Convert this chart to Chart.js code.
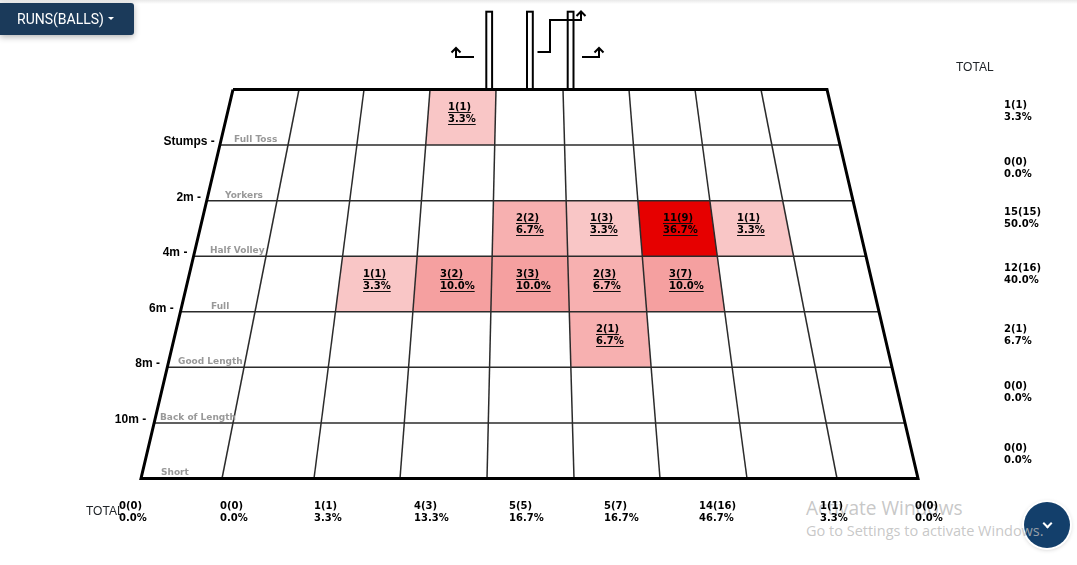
<!DOCTYPE html>
<html>
<head>
<meta charset="utf-8">
<title>Runs (balls) pitch map</title>
<script src="https://cdn.jsdelivr.net/npm/chart.js@4/dist/chart.umd.min.js"></script>
<style>
  html, body { margin: 0; padding: 0; background: #fff; overflow: hidden; }
  #wrap { position: relative; width: 1077px; height: 565px; }
  #pitchChart { position: absolute; left: 0; top: 0; z-index: 2; }
  #topShade { position: absolute; left: 0; top: 0; width: 1077px; height: 4px; background: linear-gradient(#e9e9e9, #fff); }
  #runsBtn { position: absolute; z-index: 3; left: 0; top: 3px; width: 134px; height: 32px; background: #1b3a5a; color: #fff;
    font: 14px Roboto, sans-serif; line-height: 32px; border-radius: 0 3px 3px 0; box-shadow: 0 2px 6px rgba(0,0,0,.3); }
  #runsBtn span { position: absolute; left: 17px; }
  #runsBtn i { position: absolute; left: 108px; top: 14px; border-top: 3.5px solid #fff; border-left: 3.5px solid transparent; border-right: 3.5px solid transparent; }
  #fab { position: absolute; left: 1024px; top: 502px; width: 46px; height: 46px; border-radius: 50%; background: #133f6b; box-shadow: 0 0 0 2px #fff, 0 1px 5px rgba(0,0,0,.3); }
  #fab i { position: absolute; left: 20px; top: 18px; width: 5px; height: 5px; border-right: 2px solid #fff; border-bottom: 2px solid #fff; transform: rotate(45deg); }
  #wm1, #wm2 { position: absolute; left: 806px; color: rgba(185,185,185,.8); font-family: "Open Sans", sans-serif; white-space: nowrap; pointer-events: none; }
  #wm1 { top: 495px; font-size: 19.1px; line-height: 26px; }
  #wm2 { top: 521px; font-size: 14.5px; line-height: 20px; }
</style>
</head>
<body>
<div id="wrap">
  <div id="topShade"></div>
  <div id="fab"><i></i></div>
  <div id="wm1">Activate Windows</div>
  <div id="wm2">Go to Settings to activate Windows.</div>
  <canvas id="pitchChart" width="1077" height="565"></canvas>
  <div id="runsBtn"><span>RUNS(BALLS)</span><i></i></div>
</div>
<script>
// scoring cells
const cellRow = [0, 2, 2, 2, 2, 3, 3, 3, 3, 3, 4];
const cellCol = [3, 4, 5, 6, 7, 2, 3, 4, 5, 6, 5];
const cellRuns = [1, 2, 1, 11, 1, 1, 3, 3, 2, 3, 2];
const cellBalls = [1, 2, 3, 9, 1, 1, 2, 3, 3, 7, 1];
const cellPct = [3.3, 6.7, 3.3, 36.7, 3.3, 3.3, 10.0, 10.0, 6.7, 10.0, 6.7];

// totals
const rowRuns = [1, 0, 15, 12, 2, 0, 0];
const rowBalls = [1, 0, 15, 16, 1, 0, 0];
const rowPct = [3.3, 0.0, 50.0, 40.0, 6.7, 0.0, 0.0];
const colRuns = [0, 0, 1, 4, 5, 5, 14, 1, 0];
const colBalls = [0, 0, 1, 3, 5, 7, 16, 1, 0];
const colPct = [0.0, 0.0, 3.3, 13.3, 16.7, 16.7, 46.7, 3.3, 0.0];

// axis text
const distanceLabels = ['Stumps', '2m', '4m', '6m', '8m', '10m'];
const lengthLabels = ['Full Toss', 'Yorkers', 'Half Volley', 'Full', 'Good Length', 'Back of Length', 'Short'];

// pitch shape, in x axis units
const topEdge = [233, 299, 364, 430, 496, 563, 629, 695, 761, 827];
const bottomEdge = [141, 222, 314, 400, 487, 574, 660, 747, 837, 918];
const rowCount = 7;
const rowPx = 389 / rowCount;

// label placement
const lengthLabelX = [234, 225, 210, 211, 178, 160, 161];
const rowTotalY = [108, 165, 215, 271, 332, 389, 451];
const colTotalX = [119, 220, 314, 414, 509, 604, 699, 820, 915];

function heatColor(pct) {
  if (pct > 30) return '#e60000';
  if (pct >= 10) return '#f5a0a0';
  if (pct >= 6) return '#f7b0b0';
  return '#f9c6c6';
}

function xAt(col, row) {
  return topEdge[col] + (bottomEdge[col] - topEdge[col]) * row / rowCount;
}

const lineDatasets = [];
const addLine = (pts, width, color) => lineDatasets.push({
  data: pts, showLine: true, pointRadius: 0, borderWidth: width, borderColor: color, fill: false, tension: 0
});

// outer border
addLine([
  { x: xAt(0, 0), y: 0 }, { x: xAt(9, 0), y: 0 }, { x: xAt(9, rowCount), y: rowCount },
  { x: xAt(0, rowCount), y: rowCount }, { x: xAt(0, 0), y: 0 }
], 3, '#000');
// inner lines
for (let c = 1; c < 9; c++) addLine([{ x: xAt(c, 0), y: 0 }, { x: xAt(c, rowCount), y: rowCount }], 1.5, '#2b2b2b');
for (let r = 1; r < rowCount; r++) addLine([{ x: xAt(0, r), y: r }, { x: xAt(9, r), y: r }], 1.5, '#2b2b2b');

// filled cells go last so they sit under the lines
const cellDatasets = cellRow.map((r, i) => {
  const c = cellCol[i];
  return {
    data: [
      { x: xAt(c, r), y: r }, { x: xAt(c + 1, r), y: r },
      { x: xAt(c + 1, r + 1), y: r + 1 }, { x: xAt(c, r + 1), y: r + 1 }
    ],
    showLine: true, pointRadius: 0, borderWidth: 0, fill: 'shape', tension: 0,
    backgroundColor: heatColor(cellPct[i])
  };
});

function twoLines(ctx, a, b, x, y, underline) {
  ctx.textAlign = 'left';
  ctx.textBaseline = 'alphabetic';
  ctx.fillStyle = '#000';
  ctx.font = 'bold 10px "DejaVu Sans"';
  ctx.fillText(a, x, y);
  ctx.fillText(b, x, y + 12);
  if (underline) {
    ctx.fillStyle = '#111';
    ctx.fillRect(x, y + 2, ctx.measureText(a).width, 1);
    ctx.fillRect(x, y + 14, ctx.measureText(b).width, 1);
  }
}

const pitchText = {
  id: 'pitchText',
  afterDatasetsDraw(chart) {
    const { ctx, scales } = chart;
    const px = v => scales.x.getPixelForValue(v);
    const py = v => scales.y.getPixelForValue(v);
    const lineY = r => Math.floor(py(r) + 0.4);
    ctx.save();

    // cell labels
    cellRow.forEach((r, i) => {
      const c = cellCol[i];
      const mid = (px(xAt(c, r + 0.5)) + px(xAt(c + 1, r + 0.5))) / 2;
      twoLines(ctx, cellRuns[i] + '(' + cellBalls[i] + ')', cellPct[i].toFixed(1) + '%', Math.round(mid - 13.6), Math.round(py(r + 0.5) - 7.2), true);
    });

    // totals
    rowRuns.forEach((v, i) => twoLines(ctx, v + '(' + rowBalls[i] + ')', rowPct[i].toFixed(1) + '%', 1004, rowTotalY[i], false));
    colRuns.forEach((v, i) => twoLines(ctx, v + '(' + colBalls[i] + ')', colPct[i].toFixed(1) + '%', colTotalX[i], 509, false));
    ctx.fillStyle = '#212529';
    ctx.font = '12px "Liberation Sans"';
    ctx.fillText('TOTAL', 956, 71);
    ctx.fillText('TOTAL', 86, 515);

    // distance labels
    ctx.fillStyle = '#000';
    ctx.font = 'bold 12px "Liberation Sans"';
    ctx.textAlign = 'right';
    distanceLabels.forEach((t, i) => {
      const r = i + 1;
      ctx.fillText(t + ' -', px(xAt(0, r)) - 4.4 - 0.6 * r, lineY(r));
    });

    // length names
    ctx.fillStyle = '#999';
    ctx.font = 'bold 9px "DejaVu Sans"';
    ctx.textAlign = 'left';
    lengthLabels.forEach((t, i) => ctx.fillText(t, lengthLabelX[i], lineY(i + 1) - 3));

    // stumps and the arrows round them
    ctx.strokeStyle = '#000';
    ctx.lineWidth = 2;
    [486.3, 527, 567.7].forEach(x => ctx.strokeRect(x, 11.7, 5.8, 77.8));
    const poly = pts => {
      ctx.beginPath();
      pts.forEach((p, i) => (i ? ctx.lineTo(p[0], p[1]) : ctx.moveTo(p[0], p[1])));
      ctx.stroke();
    };
    poly([[474, 57], [456, 57], [456, 48]]);
    poly([[451.5, 52.5], [456, 48], [460.5, 52.5]]);
    poly([[582, 57], [599, 57], [599, 48]]);
    poly([[594.5, 52.5], [599, 48], [603.5, 52.5]]);
    poly([[537.5, 52], [550, 52], [550, 20], [581, 20], [581, 12]]);
    poly([[576.5, 16], [581, 11.5], [585.5, 16]]);
    ctx.restore();
  }
};

new Chart(document.getElementById('pitchChart').getContext('2d'), {
  type: 'scatter',
  data: { datasets: lineDatasets.concat(cellDatasets) },
  options: {
    responsive: false,
    animation: false,
    layout: { padding: 0 },
    plugins: { legend: { display: false }, tooltip: { enabled: false } },
    scales: {
      x: { type: 'linear', display: false, min: 0, max: 1077 },
      y: { type: 'linear', display: false, reverse: true, min: -89.5 / rowPx, max: (565 - 89.5) / rowPx }
    }
  },
  plugins: [pitchText]
});
</script>
</body>
</html>
